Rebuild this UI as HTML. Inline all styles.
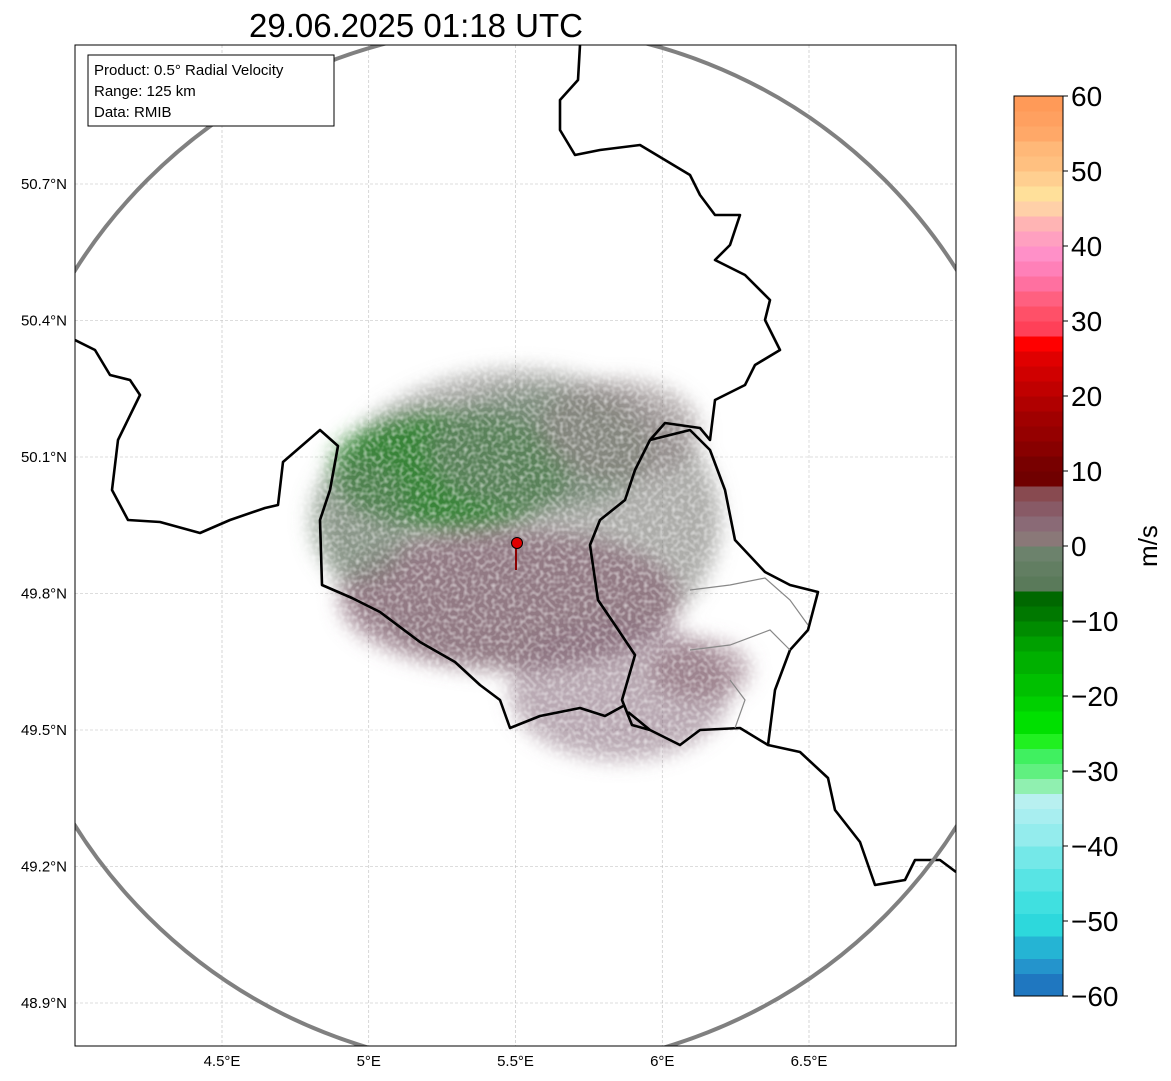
<!DOCTYPE html>
<html><head><meta charset="utf-8"><style>
body{margin:0;background:#fff;}
svg{display:block;font-family:"Liberation Sans","DejaVu Sans",sans-serif;}
</style></head><body>
<svg id="chart" width="1171" height="1081" viewBox="0 0 1171 1081">
<defs>
<filter id="blur" x="-20%" y="-20%" width="140%" height="140%"><feGaussianBlur stdDeviation="10"/></filter>
<filter id="noise" x="0" y="0" width="100%" height="100%"><feTurbulence type="fractalNoise" baseFrequency="0.25" numOctaves="1" seed="3"/><feColorMatrix type="matrix" values="0 0 0 0 1  0 0 0 0 1  0 0 0 0 1  0 0 0 -2.2 1.3"/></filter>
<clipPath id="plotclip"><rect x="75" y="45" width="881" height="1001"/></clipPath>
</defs>
<text x="416" y="37" text-anchor="middle" font-size="33">29.06.2025 01:18 UTC</text>
<g id="plot" clip-path="url(#plotclip)">
<rect x="75" y="45" width="881" height="1001" fill="#fff"/>
<g id="grid"></g>
<g id="echo" filter="url(#blur)">
<ellipse cx="520" cy="520" rx="200" ry="150" fill="#8a8a86" opacity="0.7"/>
<ellipse cx="450" cy="470" rx="120" ry="60" fill="#1a7a1a" opacity="0.8"/>
<ellipse cx="540" cy="450" rx="110" ry="60" fill="#6a826a" opacity="0.7"/>
<ellipse cx="510" cy="600" rx="170" ry="70" fill="#8a6a78" opacity="0.75"/>
<ellipse cx="620" cy="690" rx="110" ry="70" fill="#8a7080" opacity="0.6"/>
<ellipse cx="700" cy="670" rx="50" ry="30" fill="#8a6a78" opacity="0.6"/>
<ellipse cx="360" cy="520" rx="50" ry="60" fill="#6a826a" opacity="0.5"/>
<ellipse cx="620" cy="430" rx="80" ry="50" fill="#8a8080" opacity="0.6"/>
</g>
<rect x="250" y="330" width="560" height="520" fill="#fff" filter="url(#noise)" opacity="0.55"/>
<g id="borders" fill="none" stroke="#000" stroke-width="2.6" stroke-linejoin="round">
<polyline points="580,45 578,80 560,100 560,130 575,155 600,150 640,145 665,160 690,175 700,195 715,215 740,215 730,245 715,260 745,275 770,300 765,320 780,350 755,365 745,385 715,400 710,440 700,428 665,423 650,440 635,470 625,500 600,520 590,545 598,600 615,625 635,655 622,700 632,725 650,730"/>
<polyline points="650,440 690,430 710,450 725,490 735,540 765,572 790,585 818,592 808,630 790,650 775,690 768,745 740,728 700,730 680,745 650,730 628,712"/>
<polyline points="75,340 95,350 110,375 130,380 140,395 118,440 112,490 128,520 160,522 200,533 230,520 265,508 278,505 283,462 320,430 338,446 330,490 320,520 322,585 352,598 380,612 420,642 455,662 480,685 500,700 510,728 540,716 580,708 605,716 625,705"/>
<polyline points="768,745 800,752 828,778 835,810 860,842 875,885 905,880 915,860 940,860 956,872"/>
</g>
<g fill="none" stroke="#888" stroke-width="1.2">
<polyline points="690,590 730,585 765,578 790,600 808,625"/>
<polyline points="690,650 730,645 770,630 790,650"/>
<polyline points="730,680 745,700 735,728"/>
</g>
<circle cx="516" cy="548" r="521" fill="none" stroke="#808080" stroke-width="4"/>
<line x1="516" y1="548" x2="516" y2="570" stroke="#8b0000" stroke-width="2"/>
<circle cx="517" cy="543" r="5.5" fill="#e00000" stroke="#000" stroke-width="1"/>
</g>
<rect x="75" y="45" width="881" height="1001" fill="none" stroke="#000" stroke-width="1"/>
<g id="xticks"></g>
<g id="yticks"></g>
<g>
<rect x="88" y="55" width="246" height="71" fill="#fff" stroke="#000" stroke-width="1"/>
<text x="94" y="75" font-size="15">Product: 0.5° Radial Velocity</text>
<text x="94" y="96" font-size="15">Range: 125 km</text>
<text x="94" y="117" font-size="15">Data: RMIB</text>
</g>
<g id="colorbar"></g>
<text x="1150" y="546" font-size="26" text-anchor="middle" transform="rotate(-90 1150 546)" dominant-baseline="middle">m/s</text>
</svg>
<script>
const xTickVals=[4.5,5,5.5,6,6.5];
const xTickLabels=["4.5°E","5°E","5.5°E","6°E","6.5°E"];
const yTickVals=[50.7,50.4,50.1,49.8,49.5,49.2,48.9];
const yTickLabels=["50.7°N","50.4°N","50.1°N","49.8°N","49.5°N","49.2°N","48.9°N"];
const cbTicks=[60,50,40,30,20,10,0,-10,-20,-30,-40,-50,-60];
const cbLabels=["60","50","40","30","20","10","0","−10","−20","−30","−40","−50","−60"];
const cbVals=[-60,-57,-55,-52,-49,-46,-43,-40,-37,-35,-33,-31,-29,-27,-25,-22,-20,-17,-14,-12,-10,-8,-6,-4,-2,0,2,4,6,8,10,12,14,16,18,20,22,24,26,28,30,32,34,36,38,40,42,44,46,48,50,52,54,56,58,60];
const cbColors=["#1f77c0","#2494cc","#25b4d4","#2dd8dc","#40e0e0","#58e4e4","#74e8e8","#94eced","#a8eef0","#b8f0f0","#90f0b0","#60f080","#40f060","#20f020","#00e000","#00d000","#00c000","#00b000","#00a000","#008c00","#007800","#006800","#5a7a5a","#627e62","#6c826c","#8a7878","#8a6a76","#885a66","#884a50","#700000","#780000","#880000","#950000","#a00000","#b00000","#c00000","#d00000","#e00000","#ff0000","#ff4058","#ff5068","#ff6080","#ff70a0","#ff80b8","#ff90c8","#ffa0c0","#ffb4b4","#ffd0a8","#ffe09a","#ffcf90","#ffc080","#ffb878","#ffa868","#ffa060","#ff9a58"];
const NS="http://www.w3.org/2000/svg";
const xScale=v=>222+(v-4.5)*293.5;
const yScale=v=>184+(50.7-v)*455;
const cScale=v=>546-v*7.5;
function mk(t,a,p){const e=document.createElementNS(NS,t);for(const k in a)e.setAttribute(k,a[k]);p.appendChild(e);return e;}
const grid=document.getElementById('grid'),xt=document.getElementById('xticks'),yt=document.getElementById('yticks'),cb=document.getElementById('colorbar');
xTickVals.forEach((v,i)=>{const x=xScale(v);
const g=mk('line',{x1:x,x2:x,y1:45,y2:1046,stroke:'#bbb','stroke-width':0.6,'stroke-dasharray':'3,2'},grid);


const t=mk('text',{x:x,y:1066,'font-size':15,'text-anchor':'middle'},xt);t.textContent=xTickLabels[i];

});
yTickVals.forEach((v,i)=>{const y=yScale(v);
const g=mk('line',{x1:75,x2:956,y1:y,y2:y,stroke:'#bbb','stroke-width':0.6,'stroke-dasharray':'3,2'},grid);


const t=mk('text',{x:67,y:y+5,'font-size':15,'text-anchor':'end'},yt);t.textContent=yTickLabels[i];

});
for(let i=0;i<cbColors.length;i++){const y1=cScale(cbVals[i+1]),y2=cScale(cbVals[i]);
const r=mk('rect',{x:1014,y:y1,width:49,height:y2-y1+0.5,fill:cbColors[i]},cb);

}
mk('rect',{x:1014,y:cScale(60),width:49,height:cScale(-60)-cScale(60),fill:'none',stroke:'#000','stroke-width':1},cb);
cbTicks.forEach((v,i)=>{const y=cScale(v);
mk('line',{x1:1063,x2:1068,y1:y,y2:y,stroke:'#000'},cb);
const t=mk('text',{x:1071,y:y+10,'font-size':28},cb);t.textContent=cbLabels[i];

});
</script>
</body></html>
